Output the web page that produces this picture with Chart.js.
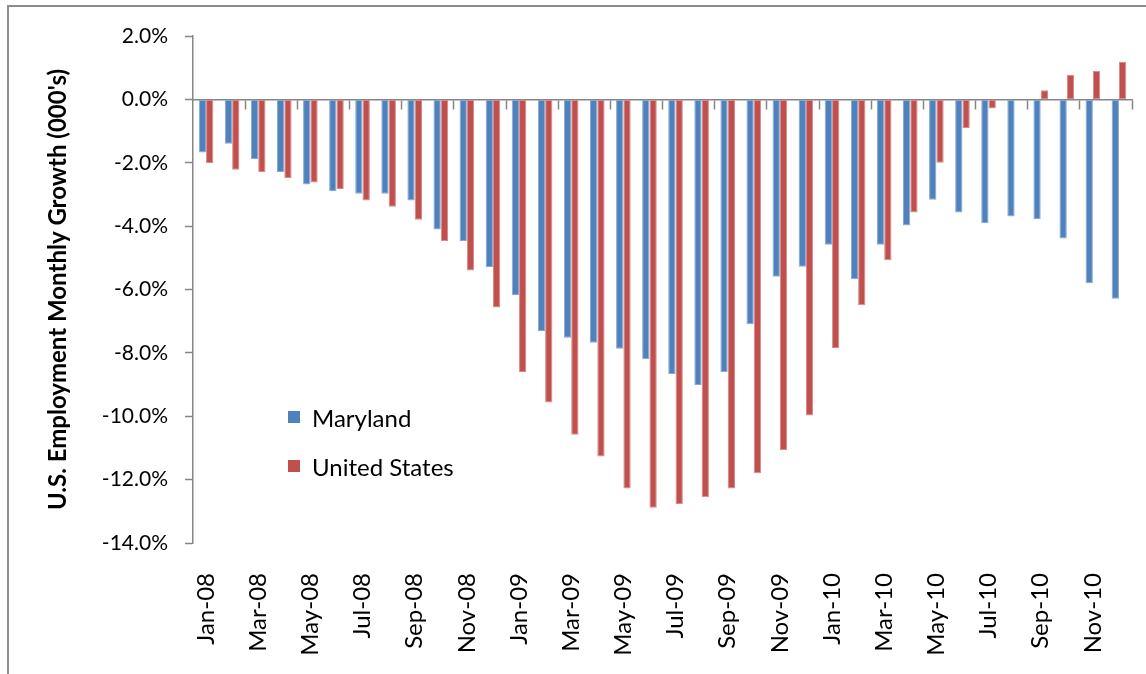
<!DOCTYPE html>
<html>
<head>
<meta charset="utf-8">
<script src="https://cdn.jsdelivr.net/npm/chart.js@4.4.1/dist/chart.umd.min.js"></script>
<style>
  body { margin: 0; background: #fff; }
  #wrap { position: relative; width: 1146px; height: 674px; overflow: hidden; }
  #frame { position: absolute; left: 7px; top: 5px; width: 1200px; height: 700px;
           border-left: 2px solid #8c8c8c; border-top: 2px solid #8c8c8c; }
  canvas { position: absolute; left: 0; top: 0; }
  .legend { position: absolute; left: 288px; height: 30px; display: flex; align-items: center;
            font-family: Lato, sans-serif; font-size: 24px; color: #000; }
  .legend span { display: inline-block; width: 12px; height: 12px; margin-right: 12px; }
</style>
</head>
<body>
<div id="wrap">
  <div id="frame"></div>
  <canvas id="growthChart" width="1146" height="674"></canvas>
  <div class="legend" style="top:402px"><span style="background:#4F81BD"></span>Maryland</div>
  <div class="legend" style="top:451px"><span style="background:#C0504D"></span>United States</div>
</div>
<script>
// monthly labels, Jan-08 .. Dec-10
const months = ['Jan-08','Feb-08','Mar-08','Apr-08','May-08','Jun-08','Jul-08','Aug-08','Sep-08','Oct-08','Nov-08','Dec-08',
                'Jan-09','Feb-09','Mar-09','Apr-09','May-09','Jun-09','Jul-09','Aug-09','Sep-09','Oct-09','Nov-09','Dec-09',
                'Jan-10','Feb-10','Mar-10','Apr-10','May-10','Jun-10','Jul-10','Aug-10','Sep-10','Oct-10','Nov-10','Dec-10'];

// growth, percent
const maryland = [-1.68, -1.40, -1.88, -2.29, -2.69, -2.90, -2.98, -2.98, -3.19, -4.11, -4.47, -5.29,
                  -6.18, -7.31, -7.52, -7.68, -7.87, -8.20, -8.67, -9.01, -8.60, -7.10, -5.60, -5.28,
                  -4.59, -5.68, -4.59, -3.98, -3.17, -3.57, -3.90, -3.70, -3.78, -4.39, -5.80, -6.29];
const unitedStates = [-2.01, -2.22, -2.29, -2.49, -2.62, -2.83, -3.19, -3.39, -3.80, -4.47, -5.40, -6.57,
                      -8.60, -9.57, -10.58, -11.27, -12.28, -12.89, -12.77, -12.56, -12.28, -11.80, -11.07, -9.98,
                      -7.85, -6.50, -5.08, -3.57, -2.00, -0.90, -0.29, 0.00, 0.29, 0.78, 0.90, 1.18];

const yMin = -14, yMax = 2, yStep = 2;
const axisGray = '#868686';

Chart.defaults.font.family = 'Lato';
Chart.defaults.color = '#000';

const ctx = document.getElementById('growthChart').getContext('2d');
const growthChart = new Chart(ctx, {
  type: 'bar',
  data: {
    labels: months,
    datasets: [
      { label: 'Maryland', data: maryland, backgroundColor: '#4F81BD',
        borderColor: '#86A8D4', borderWidth: 1, borderSkipped: false },
      { label: 'United States', data: unitedStates, backgroundColor: '#C0504D',
        borderColor: '#D88987', borderWidth: 1, borderSkipped: false }
    ]
  },
  options: {
    responsive: false,
    animation: false,
    categoryPercentage: 0.56,
    barPercentage: 1,
    layout: { padding: { top: 36, right: 14, bottom: 0, left: 0 } },
    plugins: {
      legend: { display: false },
      tooltip: { enabled: false }
    },
    scales: {
      // zero line with tick marks between every second month
      x: {
        position: { y: 0 },
        offset: true,
        ticks: { display: false },
        border: { color: axisGray, width: 1.5 },
        grid: {
          offset: true,
          drawOnChartArea: false,
          tickLength: 9,
          tickWidth: 1.5,
          color: (c) => {
            if (c.type !== 'tick') return axisGray;
            return (c.index % 2 === 0 && c.index > 0) ? axisGray : 'rgba(0,0,0,0)';
          }
        }
      },
      // month labels below the plot
      x2: {
        type: 'category',
        labels: months,
        position: 'bottom',
        offset: true,
        border: { display: false },
        grid: { display: false },
        ticks: {
          autoSkip: false,
          maxRotation: 90,
          minRotation: 90,
          padding: 22,
          font: { size: 24 },
          callback: function (value, index) {
            return index % 2 === 0 ? this.getLabelForValue(value) : '';
          }
        },
        afterFit: (scale) => {
          scale.height = 131;
          scale.paddingLeft = 0;
          scale.paddingRight = 0;
        }
      },
      y: {
        min: yMin,
        max: yMax,
        border: { color: axisGray, width: 1.5 },
        grid: { drawOnChartArea: false, tickLength: 8, tickWidth: 1.5, color: axisGray },
        ticks: {
          stepSize: yStep,
          padding: 17,
          font: { size: 21 },
          callback: (v) => v.toFixed(1) + '%'
        },
        title: {
          display: true,
          text: "U.S. Employment Monthly Growth (000's)",
          font: { size: 24, weight: 'bold' },
          padding: { top: 44, bottom: 0 }
        },
        afterFit: (scale) => { scale.width = 193; }
      }
    }
  }
});
</script>
</body>
</html>
